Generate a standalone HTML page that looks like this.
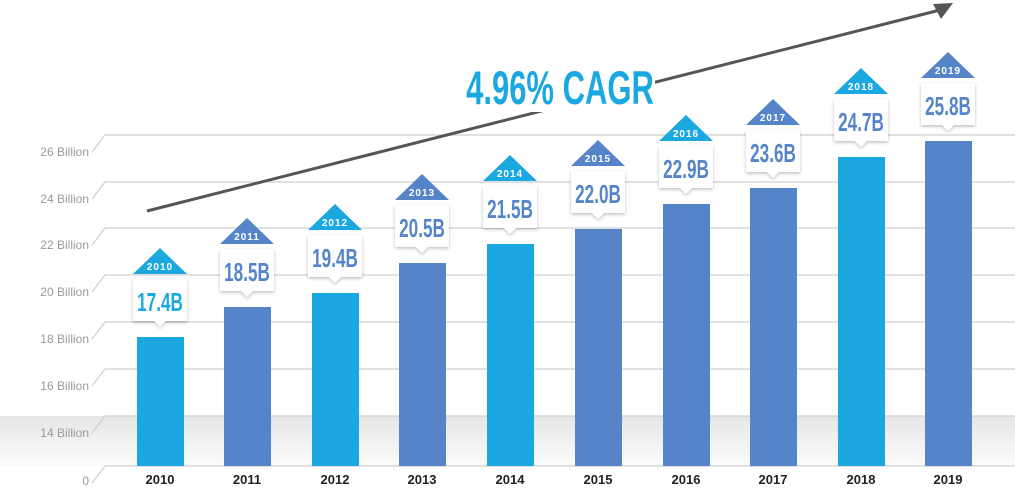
<!DOCTYPE html>
<html><head><meta charset="utf-8"><style>body{margin:0;background:#fff}svg{display:block}</style></head>
<body>
<svg width="1015" height="493" viewBox="0 0 1015 493" xmlns="http://www.w3.org/2000/svg" font-family="Liberation Sans, sans-serif">
<defs>
<linearGradient id="band" x1="0" y1="0" x2="0" y2="1">
<stop offset="0" stop-color="#e6e6e6"/><stop offset="1" stop-color="#fbfbfb"/>
</linearGradient>
<filter id="sh" x="-20%" y="-20%" width="140%" height="150%"><feDropShadow dx="0" dy="1.5" stdDeviation="1.5" flood-color="#000" flood-opacity="0.25"/></filter>
</defs>
<rect x="0" y="416" width="1015" height="50" fill="url(#band)"/>
<g stroke="#cfcfcf" stroke-width="1.2" fill="none">
<path d="M92,152 L105,135 H1015"/>
<path d="M92,199 L105,182 H1015"/>
<path d="M92,245 L105,228 H1015"/>
<path d="M92,292 L105,275 H1015"/>
<path d="M92,339 L105,322 H1015"/>
<path d="M92,386 L105,369 H1015"/>
<path d="M92,433 L105,416 H1015"/>
<path d="M92,483 L105,466 H1015"/>
</g>
<g fill="#9a9a9a" font-size="12" text-anchor="end">
<text x="89" y="156">26 Billion</text><text x="89" y="203">24 Billion</text>
<text x="89" y="249">22 Billion</text><text x="89" y="296">20 Billion</text>
<text x="89" y="343">18 Billion</text><text x="89" y="390">16 Billion</text>
<text x="89" y="437">14 Billion</text><text x="89" y="485">0</text>
</g>
<path d="M147,211 Q560,105 940,10" stroke="#555" stroke-width="3" fill="none"/>
<path d="M953,3 L933,4 L941,19 Z" fill="#555"/>
<rect x="458" y="62" width="197" height="50" fill="#fff"/>
<text x="560" y="104" text-anchor="middle" font-size="47" font-weight="bold" fill="#1ba8e0" transform="translate(560 0) scale(0.66 1) translate(-560 0)">4.96% CAGR</text>
<g>
<rect x="137" y="337" width="47" height="129" fill="#1ba8e0"/>
<rect x="224" y="307" width="47" height="159" fill="#5585c8"/>
<rect x="312" y="293" width="47" height="173" fill="#1ba8e0"/>
<rect x="399" y="263" width="47" height="203" fill="#5585c8"/>
<rect x="487" y="244" width="47" height="222" fill="#1ba8e0"/>
<rect x="575" y="229" width="47" height="237" fill="#5585c8"/>
<rect x="663" y="204" width="47" height="262" fill="#5585c8"/>
<rect x="750" y="188" width="47" height="278" fill="#5585c8"/>
<rect x="838" y="157" width="47" height="309" fill="#1ba8e0"/>
<rect x="925" y="141" width="47" height="325" fill="#5585c8"/>
</g>
<g font-size="13" font-weight="bold" fill="#222" text-anchor="middle">
<text x="160" y="484">2010</text><text x="247" y="484">2011</text><text x="335" y="484">2012</text>
<text x="422" y="484">2013</text><text x="510" y="484">2014</text><text x="598" y="484">2015</text>
<text x="686" y="484">2016</text><text x="773" y="484">2017</text><text x="861" y="484">2018</text>
<text x="948" y="484">2019</text>
</g>
<g text-anchor="middle" font-weight="bold">
<g transform="translate(160,248)"><path d="M0,0 L27,26 H-27 Z" fill="#1ba8e0"/><text y="22" font-size="10" fill="#fff" letter-spacing="1">2010</text><path d="M-27,31 H27 V73 H6 L0,79 L-6,73 H-27 Z" fill="#fff" filter="url(#sh)"/><text y="63" font-size="26" fill="#1ba8e0" transform="scale(0.66 1)">17.4B</text></g>
<g transform="translate(247,218)"><path d="M0,0 L27,26 H-27 Z" fill="#5585c8"/><text y="22" font-size="10" fill="#fff" letter-spacing="1">2011</text><path d="M-27,31 H27 V73 H6 L0,79 L-6,73 H-27 Z" fill="#fff" filter="url(#sh)"/><text y="63" font-size="26" fill="#5585c8" transform="scale(0.66 1)">18.5B</text></g>
<g transform="translate(335,204)"><path d="M0,0 L27,26 H-27 Z" fill="#1ba8e0"/><text y="22" font-size="10" fill="#fff" letter-spacing="1">2012</text><path d="M-27,31 H27 V73 H6 L0,79 L-6,73 H-27 Z" fill="#fff" filter="url(#sh)"/><text y="63" font-size="26" fill="#5585c8" transform="scale(0.66 1)">19.4B</text></g>
<g transform="translate(422,174)"><path d="M0,0 L27,26 H-27 Z" fill="#5585c8"/><text y="22" font-size="10" fill="#fff" letter-spacing="1">2013</text><path d="M-27,31 H27 V73 H6 L0,79 L-6,73 H-27 Z" fill="#fff" filter="url(#sh)"/><text y="63" font-size="26" fill="#5585c8" transform="scale(0.66 1)">20.5B</text></g>
<g transform="translate(510,155)"><path d="M0,0 L27,26 H-27 Z" fill="#1ba8e0"/><text y="22" font-size="10" fill="#fff" letter-spacing="1">2014</text><path d="M-27,31 H27 V73 H6 L0,79 L-6,73 H-27 Z" fill="#fff" filter="url(#sh)"/><text y="63" font-size="26" fill="#5585c8" transform="scale(0.66 1)">21.5B</text></g>
<g transform="translate(598,140)"><path d="M0,0 L27,26 H-27 Z" fill="#5585c8"/><text y="22" font-size="10" fill="#fff" letter-spacing="1">2015</text><path d="M-27,31 H27 V73 H6 L0,79 L-6,73 H-27 Z" fill="#fff" filter="url(#sh)"/><text y="63" font-size="26" fill="#5585c8" transform="scale(0.66 1)">22.0B</text></g>
<g transform="translate(686,115)"><path d="M0,0 L27,26 H-27 Z" fill="#1ba8e0"/><text y="22" font-size="10" fill="#fff" letter-spacing="1">2016</text><path d="M-27,31 H27 V73 H6 L0,79 L-6,73 H-27 Z" fill="#fff" filter="url(#sh)"/><text y="63" font-size="26" fill="#5585c8" transform="scale(0.66 1)">22.9B</text></g>
<g transform="translate(773,99)"><path d="M0,0 L27,26 H-27 Z" fill="#5585c8"/><text y="22" font-size="10" fill="#fff" letter-spacing="1">2017</text><path d="M-27,31 H27 V73 H6 L0,79 L-6,73 H-27 Z" fill="#fff" filter="url(#sh)"/><text y="63" font-size="26" fill="#5585c8" transform="scale(0.66 1)">23.6B</text></g>
<g transform="translate(861,68)"><path d="M0,0 L27,26 H-27 Z" fill="#1ba8e0"/><text y="22" font-size="10" fill="#fff" letter-spacing="1">2018</text><path d="M-27,31 H27 V73 H6 L0,79 L-6,73 H-27 Z" fill="#fff" filter="url(#sh)"/><text y="63" font-size="26" fill="#5585c8" transform="scale(0.66 1)">24.7B</text></g>
<g transform="translate(948,52)"><path d="M0,0 L27,26 H-27 Z" fill="#5585c8"/><text y="22" font-size="10" fill="#fff" letter-spacing="1">2019</text><path d="M-27,31 H27 V73 H6 L0,79 L-6,73 H-27 Z" fill="#fff" filter="url(#sh)"/><text y="63" font-size="26" fill="#5585c8" transform="scale(0.66 1)">25.8B</text></g>
</g>
</svg>
</body></html>
